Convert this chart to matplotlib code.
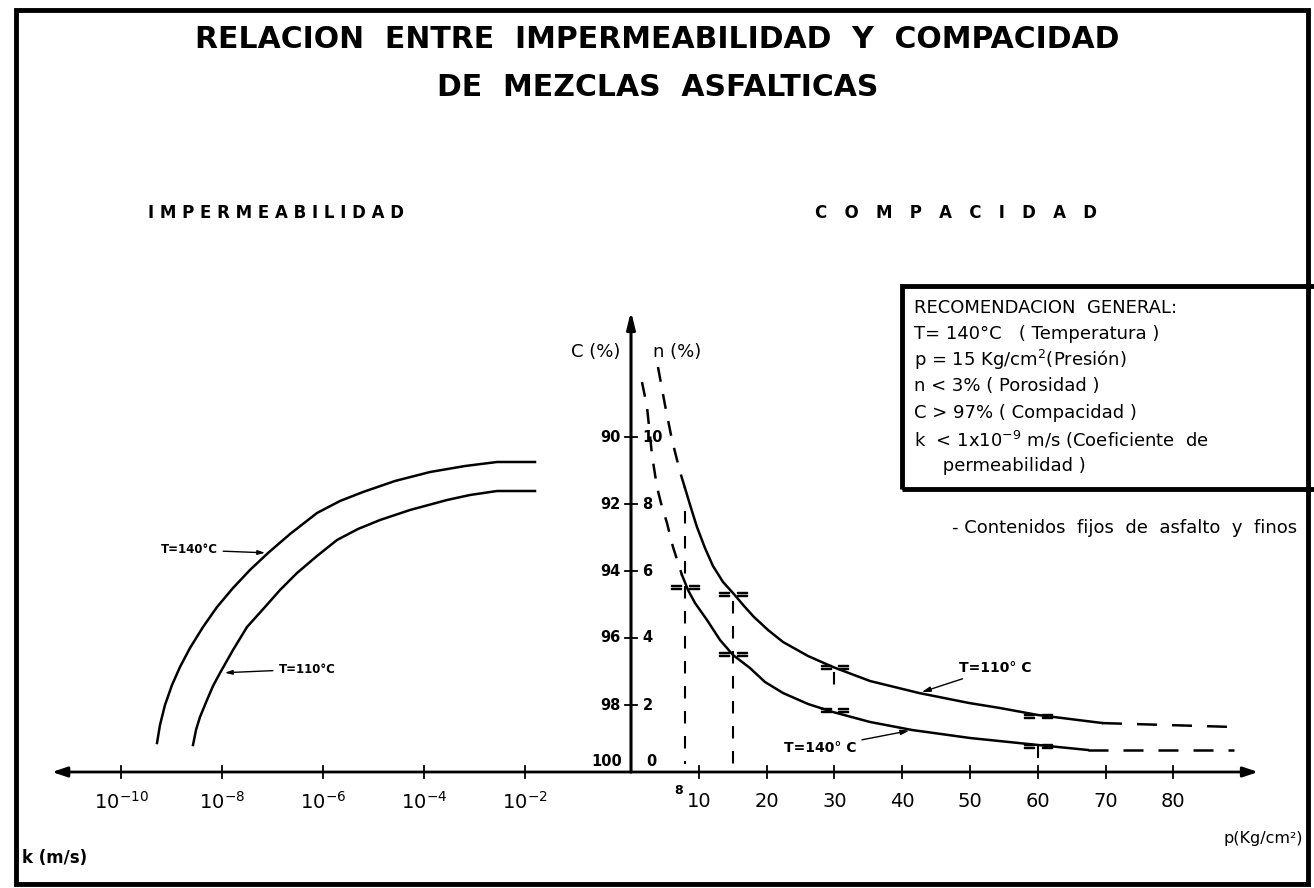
import matplotlib
matplotlib.use("Agg")
import matplotlib.pyplot as plt
from matplotlib.patches import Rectangle

# ---------------- data ----------------
k_tick_exp = [-10, -8, -6, -4, -2]
k_tick_labels = [r"$10^{-10}$", r"$10^{-8}$", r"$10^{-6}$", r"$10^{-4}$", r"$10^{-2}$"]
p_ticks = [10, 20, 30, 40, 50, 60, 70, 80]
c_tick_labels = ["90", "92", "94", "96", "98"]
n_ticks = [10, 8, 6, 4, 2]

# Left: compacidad C (%) vs log10 k (m/s)
k140_log = [-9.287, -9.228, -9.129, -8.990, -8.832, -8.634, -8.376, -8.099, -7.782, -7.446,
            -7.089, -6.653, -6.119, -5.663, -5.208, -4.574, -3.881, -3.188, -2.554, -1.802]
c140 = [99.134, 98.597, 98.000, 97.403, 96.866, 96.299, 95.672, 95.075, 94.507, 93.970,
        93.463, 92.896, 92.269, 91.910, 91.642, 91.313, 91.045, 90.866, 90.746, 90.746]
k110_log = [-8.574, -8.515, -8.436, -8.297, -8.178, -8.040, -7.782, -7.505, -7.149, -6.851,
            -6.515, -6.119, -5.723, -5.307, -4.871, -4.277, -3.545, -3.089, -2.554, -1.802]
c110 = [99.194, 98.746, 98.358, 97.851, 97.433, 97.045, 96.358, 95.672, 95.075, 94.567,
        94.060, 93.552, 93.075, 92.746, 92.478, 92.179, 91.881, 91.731, 91.612, 91.612]

# Right: porosidad n (%) vs presion p (Kg/cm2)
p110_dash_a = [3.98, 5.01, 6.05, 7.23, 7.96]
n110_dash_a = [12.09, 10.96, 9.91, 8.96, 8.48]
p110 = [7.96, 8.85, 9.73, 10.91, 12.09, 13.57, 15.04, 16.67, 18.14, 20.21, 22.42, 26.11,
        29.79, 35.25, 42.48, 49.85, 54.42, 60.03, 64.75, 69.47]
n110 = [8.478, 7.881, 7.313, 6.687, 6.149, 5.672, 5.343, 4.955, 4.627, 4.239, 3.881, 3.463,
        3.134, 2.716, 2.358, 2.060, 1.910, 1.701, 1.582, 1.463]
p110_dash_b = [69.47, 79.5, 89.5]
n110_dash_b = [1.46, 1.40, 1.34]

p140_dash_a = [1.62, 2.36, 3.10, 3.83, 4.42, 5.31, 6.19, 7.52]
n140_dash_a = [11.64, 10.90, 9.46, 8.51, 8.03, 7.43, 6.72, 5.88]
p140 = [7.52, 8.41, 9.44, 11.21, 13.13, 15.04, 17.55, 19.76, 22.42, 26.11, 29.79, 35.25,
        41.45, 50.00, 60.03, 67.40]
n140 = [5.881, 5.433, 5.045, 4.537, 3.940, 3.493, 3.104, 2.687, 2.358, 2.030, 1.791, 1.493,
        1.254, 1.015, 0.806, 0.657]
p140_dash_b = [67.40, 78.0, 89.0]
n140_dash_b = [0.66, 0.66, 0.66]

# measured points (p, n)
meas_p = [8, 15, 15, 30, 30, 60, 60]
meas_n = [5.52, 5.31, 3.52, 3.13, 1.85, 1.67, 0.78]
# reference verticals (p, n_top, n_bottom)
vref_p = [8, 15, 30, 60]
vref_top = [7.8, 5.1, 3.0, 0.78]
vref_bot = [0.25, 0.2, 2.45, 0.42]

box_lines = [
    "RECOMENDACION  GENERAL:",
    "T= 140°C   ( Temperatura )",
    "p = 15 Kg/cm$^2$(Presión)",
    "n < 3% ( Porosidad )",
    "C > 97% ( Compacidad )",
    "k  < 1x10$^{-9}$ m/s (Coeficiente  de",
    "     permeabilidad )",
]

# ---------------- figure ----------------
W, H = 1314, 888
fig = plt.figure(figsize=(W / 100, H / 100), dpi=100)
fig.patch.set_facecolor("white")


def fx(px):
    return px / W


def fy(py):
    return (H - py) / H


y_bot, y_top = 772, 260
axL = fig.add_axes([fx(40), fy(y_bot), (631 - 40) / W, (y_bot - y_top) / H])
axR = fig.add_axes([fx(631), fy(y_bot), (W - 631) / W, (y_bot - y_top) / H])
for a in (axL, axR):
    a.set_axis_off()
    a.patch.set_alpha(0)

px_per_dec = 50.5
lk_left = -10 + (40 - 121) / px_per_dec
lk_right = -10 + (631 - 121) / px_per_dec
axL.set_xscale("log")
axL.set_xlim(10 ** lk_left, 10 ** lk_right)
n_top = (y_bot - y_top) / 33.5
axL.set_ylim(100, 100 - n_top)
axR.set_xlim(0, (W - 631) / 6.78)
axR.set_ylim(0, n_top)

lw_curve = 1.8
# left curves
axL.plot([10 ** v for v in k140_log], c140, color="black", lw=lw_curve)
axL.plot([10 ** v for v in k110_log], c110, color="black", lw=lw_curve)

# right curves
dash = (0, (6, 5))
axR.plot(p110_dash_a, n110_dash_a, color="black", lw=lw_curve, linestyle=dash)
axR.plot(p110, n110, color="black", lw=lw_curve)
axR.plot(p110_dash_b, n110_dash_b, color="black", lw=lw_curve, linestyle=(0, (8, 6)))
axR.plot(p140_dash_a, n140_dash_a, color="black", lw=lw_curve, linestyle=dash)
axR.plot(p140, n140, color="black", lw=lw_curve)
axR.plot(p140_dash_b, n140_dash_b, color="black", lw=lw_curve, linestyle=(0, (8, 6)))

for vp, vt, vb in zip(vref_p, vref_top, vref_bot):
    axR.plot([vp, vp], [vt, vb], color="black", lw=1.5, linestyle=(0, (6, 6)))
for mp, mn in zip(meas_p, meas_n):
    axR.plot([mp - 1.3, mp + 1.3], [mn, mn], linestyle="none", marker="$=$",
             markersize=7, color="black")

# axes with arrows
axR.annotate("", xy=(92.5, 0), xytext=(0, 0),
             arrowprops=dict(arrowstyle="-|>,head_length=0.9,head_width=0.3",
                             lw=2, color="black", shrinkA=0, shrinkB=0),
             annotation_clip=False)
axL.annotate("", xy=(10 ** (-10 + (52 - 121) / px_per_dec), 100), xytext=(10 ** lk_right, 100),
             arrowprops=dict(arrowstyle="-|>,head_length=0.9,head_width=0.3",
                             lw=2, color="black", shrinkA=0, shrinkB=0),
             annotation_clip=False)
axR.annotate("", xy=(0, 13.75), xytext=(0, 0),
             arrowprops=dict(arrowstyle="-|>,head_length=1.0,head_width=0.25",
                             lw=2.2, color="black", shrinkA=0, shrinkB=0),
             annotation_clip=False)

# y ticks
for nv in n_ticks:
    axR.plot([-0.9, 0.9], [nv, nv], color="black", lw=1.3, clip_on=False)
tfs = 10.5
for lab, nv in zip(c_tick_labels, n_ticks):
    axR.text(-1.6, nv, lab, ha="right", va="center", fontsize=tfs, fontweight="bold")
    axR.text(1.7, nv, str(nv), ha="left", va="center", fontsize=tfs, fontweight="bold")
axR.text(-1.3, 0.3, "100", ha="right", va="center", fontsize=tfs, fontweight="bold")
axR.text(2.2, 0.3, "0", ha="left", va="center", fontsize=tfs, fontweight="bold")
axR.text(-1.5, 12.54, "C (%)", ha="right", va="center", fontsize=13)
axR.text(3.2, 12.54, "n (%)", ha="left", va="center", fontsize=13)

# x ticks
for e, lab in zip(k_tick_exp, k_tick_labels):
    axL.plot([10 ** e, 10 ** e], [99.83, 100.17], color="black", lw=1.3, clip_on=False)
    axL.text(10 ** e, 100.9, lab, ha="center", va="center", fontsize=14)
for pv in p_ticks:
    axR.plot([pv, pv], [-0.17, 0.17], color="black", lw=1.3, clip_on=False)
    axR.text(pv, -0.87, str(pv), ha="center", va="center", fontsize=14)
axR.text(7.6, -0.55, "8", ha="right", va="center", fontsize=9, fontweight="bold")

# curve labels
arr = dict(arrowstyle="-|>,head_length=0.5,head_width=0.15", lw=1.0, color="black")
axL.annotate("T=140°C", xy=(10 ** -7.09, 93.46), xytext=(10 ** -8.65, 93.37),
             ha="center", va="center", fontsize=8.5, fontweight="bold", arrowprops=arr)
axL.annotate("T=110°C", xy=(10 ** -8.0, 97.04), xytext=(10 ** -6.32, 96.93),
             ha="center", va="center", fontsize=8.5, fontweight="bold", arrowprops=arr)
axR.annotate("T=110° C", xy=(42.5, 2.36), xytext=(53.7, 3.10),
             ha="center", va="center", fontsize=10, fontweight="bold", arrowprops=arr)
axR.annotate("T=140° C", xy=(41.45, 1.25), xytext=(27.9, 0.72),
             ha="center", va="center", fontsize=10, fontweight="bold", arrowprops=arr)

# titles
fig.text(fx(657), fy(40), "RELACION  ENTRE  IMPERMEABILIDAD  Y  COMPACIDAD",
         ha="center", va="center", fontsize=21.5, fontweight="bold")
fig.text(fx(658), fy(88), "DE  MEZCLAS  ASFALTICAS",
         ha="center", va="center", fontsize=21.5, fontweight="bold")
fig.text(fx(148), fy(213), "I M P E R M E A B I L I D A D",
         ha="left", va="center", fontsize=12, fontweight="bold")
fig.text(fx(815), fy(213), "C   O   M   P   A   C   I   D   A   D",
         ha="left", va="center", fontsize=12, fontweight="bold")

# recommendation box
fig.patches.append(Rectangle((fx(902), fy(489)), (1340 - 902) / W, (489 - 286) / H,
                             transform=fig.transFigure, fill=False, lw=3.5,
                             edgecolor="black"))
box_y = [308, 334, 360, 386, 413, 440, 466]
for ln, yy in zip(box_lines, box_y):
    fig.text(fx(914), fy(yy), ln, ha="left", va="center", fontsize=13)

fig.text(fx(952), fy(528), "- Contenidos  fijos  de  asfalto  y  finos",
         ha="left", va="center", fontsize=13)

fig.text(fx(22), fy(858), "k (m/s)", ha="left", va="center", fontsize=12, fontweight="bold")
fig.text(fx(1303), fy(838), "p(Kg/cm²)", ha="right", va="center", fontsize=11.5)

# outer frame
fig.patches.append(Rectangle((fx(16), fy(884)), (1308 - 16) / W, (884 - 10) / H,
                             transform=fig.transFigure, fill=False, lw=3.5,
                             edgecolor="black"))

fig.savefig("out.png", dpi=100, facecolor="white")
